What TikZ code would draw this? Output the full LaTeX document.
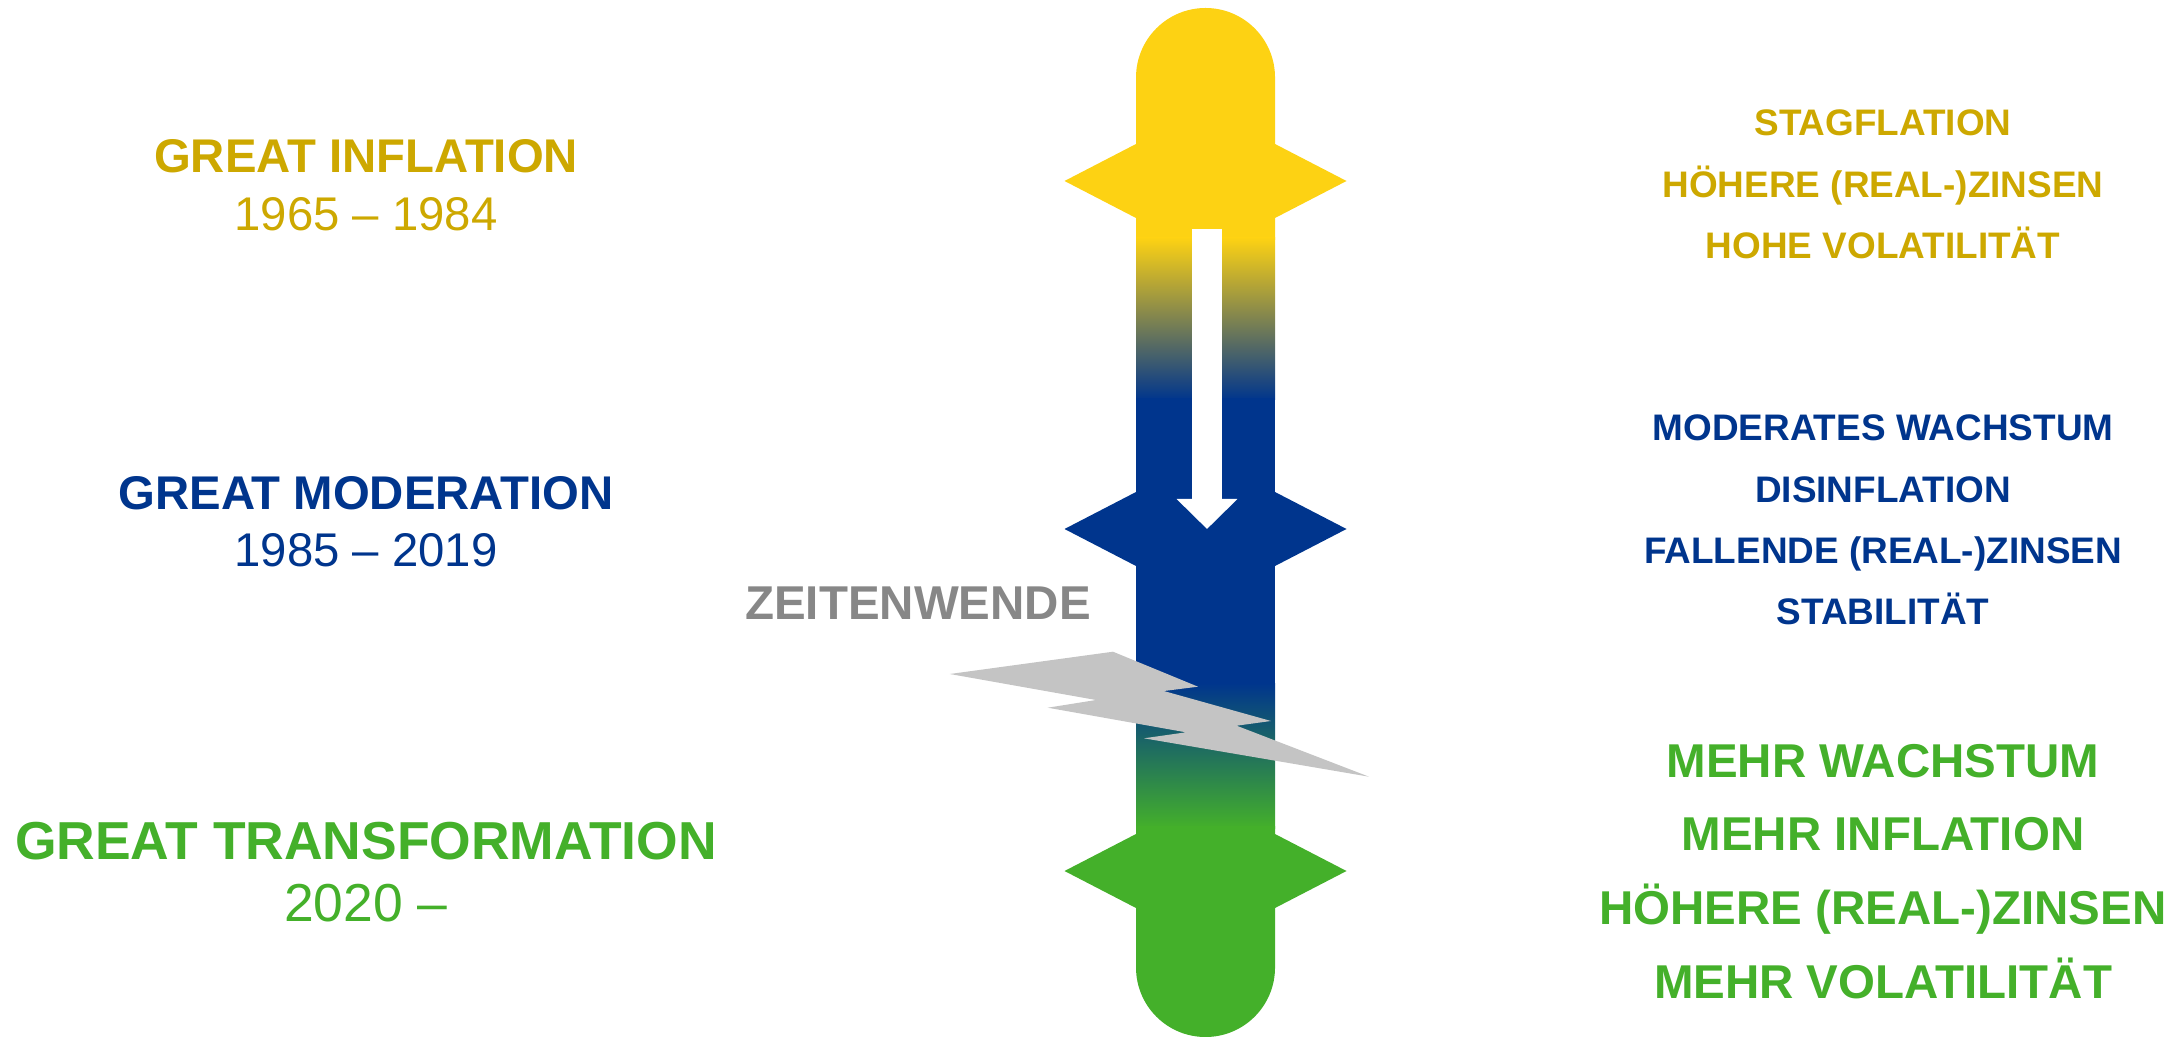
\documentclass[tikz,border=0pt]{standalone}
\usepackage{fontspec}
\setmainfont{Liberation Sans}
\usetikzlibrary{arrows.meta}
\definecolor{barYellow}{HTML}{FDD213}
\definecolor{goldText}{HTML}{CDA800}
\definecolor{barBlue}{HTML}{00358D}
\definecolor{barGreen}{HTML}{44B02A}
\definecolor{grayText}{HTML}{878787}
\definecolor{boltGray}{HTML}{C4C4C4}

\begin{document}
\begin{tikzpicture}[
    x=0.01cm, y=0.01cm,
    lbl/.style ={
        anchor=base,
        inner sep=0pt
    },
    era/.style ={
        lbl,
        font=\bfseries\fontsize{13.45}{16}\selectfont
    },
    years/.style ={
        lbl,
        font=\fontsize{13.45}{16}\selectfont
    },
    trait/.style ={
        lbl,
        font=\bfseries\fontsize{10.5}{12}\selectfont
    },
    bigtrait/.style ={
        lbl,
        font=\bfseries\fontsize{13.5}{16}\selectfont
    }
    ]
    \useasboundingbox (0,0) rectangle (2183,-1037);

    % the bar
    \fill[barYellow] (1136,-240) -- (1136,-77.5) arc (180:0:69.5) -- (1275,-240) -- cycle;
    \shade[top color=barYellow, bottom color=barBlue] (1136,-238) rectangle (1275,-400);
    \fill[barBlue] (1136,-398) rectangle (1275,-685);
    \shade[top color=barBlue, bottom color=barGreen] (1136,-683) rectangle (1275,-828);
    \fill[barGreen] (1136,-826) -- (1136,-967.5) arc (180:360:69.5) -- (1275,-826) -- cycle;
    \foreach \ty/ \clr in {181/barYellow, 529/barBlue, 871/barGreen}
        \fill[\clr] (1064.5,-\ty) -- (1136,{-\ty+37}) -- (1275,{-\ty+37}) -- (1346.5,-\ty)
            -- (1275,{-\ty-37}) -- (1136,{-\ty-37}) -- cycle;

    % white arrow
    \coordinate (arrtop) at (1207,-229);
    \coordinate (arrtip) at (1207,-529);
    \draw[white, line width=0.30cm, -{Triangle[width=0.59cm, length=0.30cm]}] (arrtop) -- (arrtip);

    % lightning
    \fill[boltGray] (949.8,-674) -- (1113,-651.7) -- (1198,-686.7) -- (1163.8,-691) -- (1271,-721)
        -- (1236.6,-725.7) -- (1369,-776.7) -- (1144,-738.3) -- (1185.9,-732.3) -- (1047.7,-707.7)
        -- (1096,-700) -- cycle;
    \node[bigtrait, text=grayText] (wende) at (918,-619) {ZEITENWENDE};

    % left side
    \node[era, text=goldText] (infl) at (366,-173) {GREAT INFLATION};
    \node[years, text=goldText] (inflyr) at (366,-231) {1965 – 1984};
    \node[era, text=barBlue] (mod) at (366,-509) {GREAT MODERATION};
    \node[years, text=barBlue] (modyr) at (366,-567) {1985 – 2019};
    \node[era, text=barGreen, font=\bfseries\fontsize{15.2}{18}\selectfont] (trans) at (366,-859) {GREAT TRANSFORMATION};
    \node[years, text=barGreen, font=\fontsize{15.2}{18}\selectfont] (transyr) at (366,-921) {2020 –};

    % right side
    \foreach \nm/ \yy/ \txt in {g1/136/STAGFLATION, g2/198/HÖHERE (REAL-)ZINSEN, g3/259/HOHE VOLATILITÄT}
        \node[trait, text=goldText] (\nm) at (1883,-\yy) {\txt};
    \foreach \nm/ \yy/ \txt in {b1/441/MODERATES WACHSTUM, b2/502/DISINFLATION,
                                b3/563/FALLENDE (REAL-)ZINSEN, b4/624/STABILITÄT}
        \node[trait, text=barBlue] (\nm) at (1883,-\yy) {\txt};
    \foreach \nm/ \yy/ \txt in {n1/777/MEHR WACHSTUM, n2/850/MEHR INFLATION,
                                n3/924/HÖHERE (REAL-)ZINSEN, n4/998/MEHR VOLATILITÄT}
        \node[bigtrait, text=barGreen] (\nm) at (1883,-\yy) {\txt};
\end{tikzpicture}
\end{document}
